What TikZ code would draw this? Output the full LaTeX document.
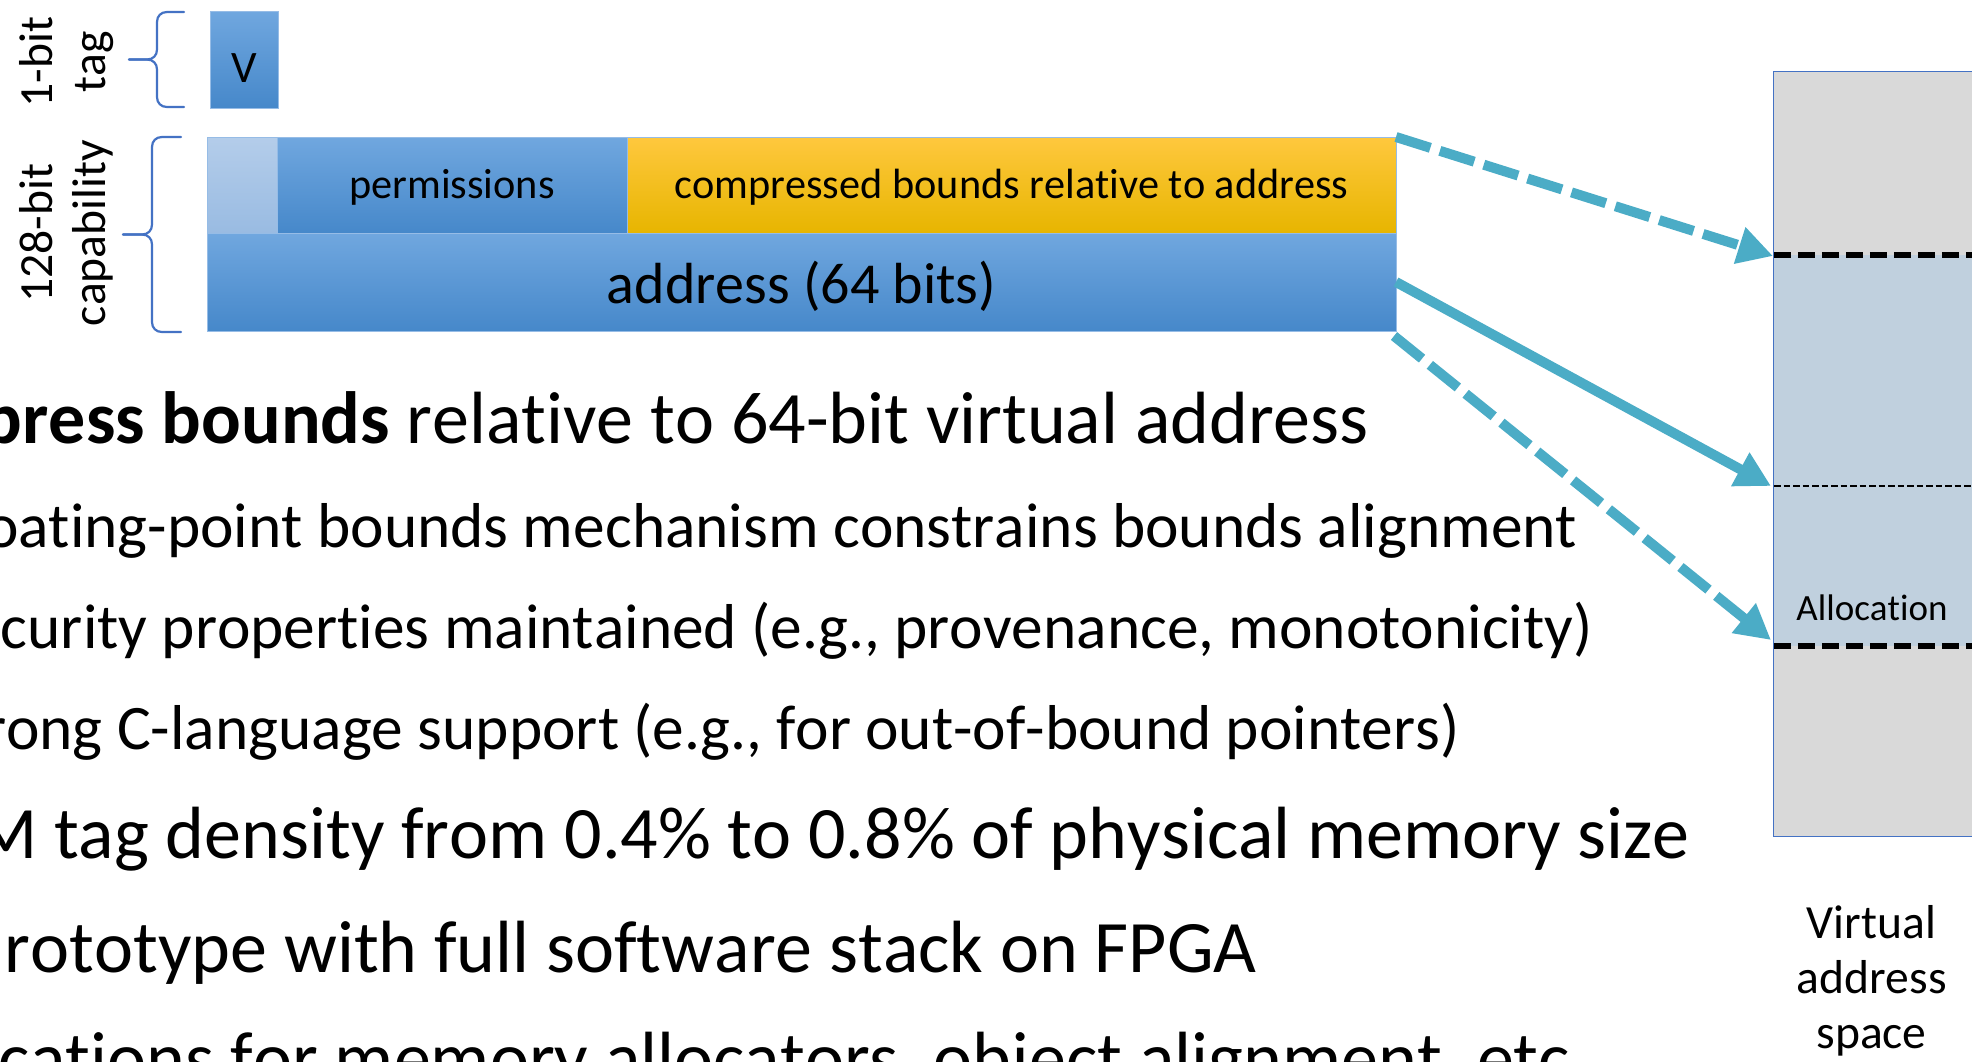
\documentclass[tikz,border=0pt]{standalone}
\usepackage{fontspec}
\setmainfont{Carlito}[Ligatures=NoCommon, Kerning=Off]
\usetikzlibrary{arrows.meta}

% palette
\definecolor{capblueT}{RGB}{112,167,223}
\definecolor{capblueM}{RGB}{86,152,214}
\definecolor{capblueB}{RGB}{70,136,202}
\definecolor{capltT}{RGB}{180,205,234}
\definecolor{capltB}{RGB}{153,187,226}
\definecolor{goldT}{RGB}{255,200,62}
\definecolor{goldM}{RGB}{255,192,0}
\definecolor{goldB}{RGB}{231,181,0}
\definecolor{cellline}{RGB}{150,188,230}
\definecolor{braceblue}{RGB}{68,114,196}
\definecolor{arrowteal}{RGB}{75,172,198}
\definecolor{vaspace}{RGB}{217,217,217}
\definecolor{allocfill}{RGB}{192,208,222}

% left curly brace: x of the ends, x of the stem, x of the tip, y top, y bottom
\newcommand{\bracecurl}[5]{%
  \draw[bracepen]
    (#1,#4) -- ({#2+10},#4)
    .. controls ({#2+4},#4) and (#2,{#4+4}) .. (#2,{#4+10})
    -- (#2,{(#4+#5)/2-10})
    .. controls (#2,{(#4+#5)/2-4}) and ({#2-4},{(#4+#5)/2}) .. ({#2-10},{(#4+#5)/2})
    -- (#3,{(#4+#5)/2});
  \draw[bracepen]
    (#3,{(#4+#5)/2}) -- ({#2-10},{(#4+#5)/2})
    .. controls ({#2-4},{(#4+#5)/2}) and (#2,{(#4+#5)/2+4}) .. (#2,{(#4+#5)/2+10})
    -- (#2,{#5-10})
    .. controls (#2,{#5-4}) and ({#2+4},#5) .. ({#2+10},#5)
    -- (#1,#5);
}

\begin{document}
\begin{tikzpicture}[x=1pt,y=-1pt,
  cell/.style={draw=cellline, line width=1, inner sep=0, outer sep=0},
  bluecell/.style={cell, top color=capblueT, middle color=capblueM, bottom color=capblueB},
  lightcell/.style={cell, top color=capltT, bottom color=capltB},
  goldcell/.style={cell, top color=goldT, middle color=goldM, bottom color=goldB},
  fieldtext/.style={font=\fontsize{42.3}{50}\selectfont},
  bracepen/.style={draw=braceblue, line width=2.2, line join=round, line cap=round},
  sidelabel/.style={rotate=90, anchor=base, inner sep=0, font=\fontsize{47.6}{53}\selectfont},
  bulletbig/.style={anchor=base east, inner sep=0, font=\fontsize{74}{89}\selectfont},
  bulletsmall/.style={anchor=base east, inner sep=0, font=\fontsize{63.4}{76}\selectfont},
  link/.style={draw=arrowteal, line width=10, -{Triangle[length=35pt, width=36pt]}},
  linkdash/.style={link, dash pattern=on 36pt off 10pt},
  boundmark/.style={draw=black, line width=5.5, dash pattern=on 17pt off 7pt},
  pointmark/.style={draw=black, line width=2, dash pattern=on 6.5pt off 3pt},
]
\useasboundingbox (0,0) rectangle (1972,1061);
\clip (0,0) rectangle (1972,1061);
\fill[white] (0,0) rectangle (1972,1061);

% ---- tag bit and 128-bit capability ----
\node[bluecell, minimum width=68, minimum height=97, text height=45, text depth=0,
      font=\fontsize{45}{54}\selectfont] (vbit) at (244,59.5) {V};

\node[lightcell, minimum width=70, minimum height=96] (spare) at (242,185) {};
\node[bluecell, minimum width=350, minimum height=96, text height=30, text depth=4,
      fieldtext] (perm) at (452,185) {permissions};
\node[goldcell, minimum width=769, minimum height=96, text height=30, text depth=4,
      fieldtext] (bounds) at (1011.5,185) {compressed bounds relative to address};
\node[bluecell, minimum width=1189, minimum height=98, text height=45, text depth=3,
      font=\fontsize{58}{70}\selectfont] (address) at (801.5,282) {address (64 bits)};

% ---- braces and their labels ----
\bracecurl{184}{157}{129}{12}{107}
\bracecurl{181}{152}{123}{137}{332}
\node[sidelabel] (taglabel) at (52,62)
  {\begin{tabular}[t]{@{}c@{}}1-bit\\tag\end{tabular}};
\node[sidelabel] (caplabel) at (52,233)
  {\begin{tabular}[t]{@{}c@{}}128-bit\\capability\end{tabular}};

% ---- virtual address space ----
\node[fill=vaspace, draw=none, inner sep=0, minimum width=201, minimum height=764.5]
  (vas) at (1874.5,453.75) {};
\node[fill=allocfill, draw=none, inner sep=0, minimum width=201, minimum height=391]
  (alloc) at (1874.5,450.5) {};
\draw[braceblue, line width=1.3] (vas.north west) rectangle (vas.south east);
\draw[boundmark] (alloc.north west) -- (alloc.north east);
\coordinate (ptrmark) at (1774,486);
\coordinate (ptrmarkend) at (1975,486);
\draw[pointmark] (ptrmark) -- (ptrmarkend);
\draw[boundmark] (alloc.south west) -- (alloc.south east);
\node[anchor=base, inner sep=0, font=\fontsize{37}{44}\selectfont] (alloclabel)
  at (1872,620) {Allocation};
\node[anchor=base, inner sep=0, font=\fontsize{47.6}{55}\selectfont] (vaslabel)
  at (1871.5,938) {\begin{tabular}[t]{@{}c@{}}Virtual\\address\\space\end{tabular}};

% arrow targets on the left edge of the address space
\coordinate (toptip) at (1773,256);
\coordinate (midtip) at (1771,486);
\coordinate (bottip) at (1771,640);

\draw[linkdash] (bounds.north east) -- (toptip);
\draw[link] (address.east) -- (midtip);
\draw[linkdash] ([shift={(-2,5)}]address.south east) -- (bottip);

% ---- bullet text ----
\node[bulletbig] (line1) at (1369,443)
  {\textbf{press bounds} relative to 64-bit virtual address};
\node[bulletsmall] (line2) at (1578,547)
  {oating-point bounds mechanism constrains bounds alignment};
\node[bulletsmall] (line3) at (1593,648)
  {curity properties maintained (e.g., provenance, monotonicity)};
\node[bulletsmall] (line4) at (1460,749)
  {rong C-language support (e.g., for out-of-bound pointers)};
\node[bulletbig] (line5) at (1690,858)
  {M tag density from 0.4\% to 0.8\% of physical memory size};
\node[bulletbig] (line6) at (1257,972)
  {rototype with full software stack on FPGA};
\node[bulletbig] (line7) at (1589,1083)
  {cations for memory allocators, object alignment, etc.};
\end{tikzpicture}
\end{document}
